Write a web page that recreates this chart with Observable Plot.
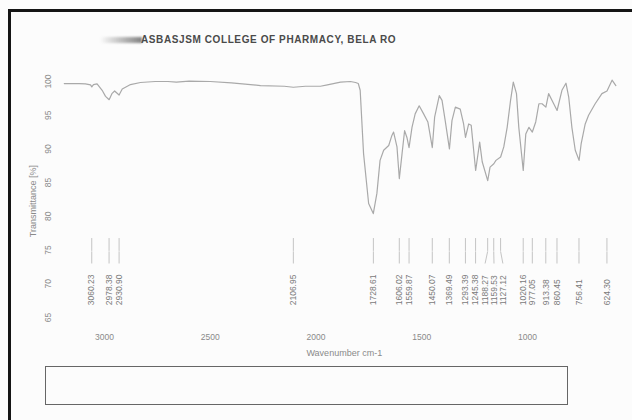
<!DOCTYPE html>
<html>
<head>
<meta charset="utf-8">
<script src="https://cdn.jsdelivr.net/npm/d3@7"></script>
<script src="https://cdn.jsdelivr.net/npm/@observablehq/plot@0.6"></script>
<style>
  body { margin: 0; background: #fff; font-family: "Liberation Sans", Arial, sans-serif; }
  #page { position: relative; width: 632px; height: 420px; overflow: hidden; background: #fcfcfc; }
  #frame { position: absolute; left: 8px; top: 9px; width: 700px; height: 500px;
           border-top: 3px solid #151515; border-left: 3px solid #151515; }
  #fade { position: absolute; left: 100px; top: 37px; width: 42px; height: 6px;
          background: linear-gradient(to right, rgba(90,90,90,0), rgba(90,90,90,0.75)); filter: blur(1px); }
  #title { position: absolute; left: 141px; top: 34px; font-size: 10px; font-weight: bold;
           color: #4a4a4a; white-space: nowrap; letter-spacing: 0.6px; }
  #chart { position: absolute; left: 0; top: 60px; }
  #remark { position: absolute; left: 45px; top: 366px; width: 521px; height: 37px; border: 1.5px solid #666; }
</style>
</head>
<body>
<div id="page">
  <div id="frame"></div>
  <div id="fade"></div>
  <div id="title">ASBASJSM COLLEGE OF PHARMACY, BELA RO</div>
  <div id="chart"></div>
  <div id="remark"></div>
</div>
<script>
// FT-IR spectrum: wavenumber (cm-1) against transmittance (%)
const wavenumber = [
  3190, 3120, 3090, 3066, 3060, 3052, 3035, 3011, 2995, 2978,
  2965, 2952, 2931, 2916, 2877, 2830, 2760, 2700, 2660, 2600,
  2500, 2400, 2262, 2150, 2107, 2050, 1979, 1946, 1884, 1837,
  1813, 1800, 1791, 1775, 1751, 1729, 1712, 1697, 1680, 1656,
  1641, 1633, 1617, 1606, 1593, 1581, 1570, 1560, 1546, 1531,
  1512, 1491, 1471, 1450, 1439, 1417, 1404, 1389, 1369, 1357,
  1341, 1318, 1302, 1293, 1278, 1266, 1245, 1226, 1214, 1188,
  1177, 1159, 1149, 1127, 1112, 1096, 1080, 1067, 1052, 1041,
  1020, 1008, 993, 977, 961, 946, 931, 913, 900, 876,
  860, 837, 818, 805, 790, 774, 756, 746, 727, 711,
  680, 648, 624, 600, 582
];
const transmittance = [
  99.7, 99.7, 99.65, 99.5, 99.2, 99.55, 99.65, 98.7, 97.8, 97.3,
  98.2, 98.6, 98.0, 98.9, 99.55, 99.85, 100.0, 100.0, 99.9, 100.05,
  100.0, 99.8, 99.4, 99.3, 99.15, 99.3, 99.3, 99.5, 99.9, 100.0,
  99.85, 99.7, 98.7, 89.3, 81.9, 80.4, 83.4, 88.3, 89.8, 90.5,
  92.0, 92.5, 90.3, 85.6, 89.3, 92.7, 91.7, 90.2, 93.2, 95.2,
  96.4, 95.2, 94.0, 90.2, 94.7, 97.9, 97.2, 94.2, 90.0, 94.2,
  96.2, 95.9, 93.7, 91.7, 93.7, 93.5, 86.8, 91.0, 88.1, 85.3,
  87.3, 87.8, 88.3, 88.8, 90.3, 93.2, 97.2, 99.9, 98.2, 93.2,
  86.8, 92.2, 93.2, 92.5, 94.0, 96.7, 96.7, 96.2, 98.2, 96.7,
  95.7, 98.7, 99.75, 97.7, 93.2, 89.8, 88.3, 90.8, 93.7, 95.0,
  96.7, 98.2, 98.6, 100.2, 99.4
];

// Peak picks
const peakPositions = [
  3060.23, 2978.38, 2930.90, 2106.95, 1728.61, 1606.02, 1559.87, 1450.07,
  1369.49, 1293.39, 1245.38, 1188.27, 1159.53, 1127.12, 1020.16, 977.05,
  913.38, 860.45, 756.41, 624.30
];
const peakLabels = peakPositions.map(v => v.toFixed(2));

const yTicks = [100, 95, 90, 85, 80, 75, 70, 65];
const xTicks = [3000, 2500, 2000, 1500, 1000];
const xLabel = "Wavenumber cm-1";
const yLabel = "Transmittance [%]";

const spectrum = wavenumber.map((v, i) => ({v, t: transmittance[i]}));

// Spread crowded peak labels apart (minimum gap in cm-1)
const minGap = 42;
const labelPos = peakPositions.slice();
for (let k = 0; k < 300; k++) {
  for (let i = 0; i < labelPos.length - 1; i++) {
    const d = labelPos[i] - labelPos[i + 1];
    if (d < minGap) {
      const s = (minGap - d) / 2;
      labelPos[i] += s;
      labelPos[i + 1] -= s;
    }
  }
}
const peaks = peakPositions.map((v, i) => ({v, lx: labelPos[i], label: peakLabels[i]}));

// Leader-line levels, in transmittance units
const leaderTop = 76.7, leaderBend = 74.8, leaderEnd = 73.0, labelBase = 66.8;

const chart = Plot.plot({
  width: 632,
  height: 300,
  marginLeft: 63.8,
  marginRight: 16.2,
  marginTop: 10.9,
  marginBottom: 29.6,
  style: {fontFamily: "'Liberation Sans', Arial, sans-serif", background: "transparent"},
  x: {domain: [3190, 580]},
  y: {domain: [63, 101.5], axis: null},
  marks: [
    Plot.line(spectrum, {x: "v", y: "t", stroke: "#a9a9a9", strokeWidth: 1.2}),
    Plot.ruleX(peaks, {x: "v", y1: () => leaderTop, y2: () => leaderBend, stroke: "#bdbdbd", strokeWidth: 0.9}),
    Plot.link(peaks, {x1: "v", y1: () => leaderBend, x2: "lx", y2: () => leaderEnd, stroke: "#bdbdbd", strokeWidth: 0.9}),
    Plot.text(peaks, {x: "lx", y: () => labelBase, text: "label", rotate: -90, textAnchor: "start",
      fontSize: 8.5, fill: "#7a7a7a"}),
    Plot.text(yTicks, {y: d => d, text: d => String(d), frameAnchor: "left", textAnchor: "middle",
      dx: -16, rotate: -90, fontSize: 8.5, fill: "#8a8a8a"}),
    Plot.axisX(xTicks, {tickSize: 0, tickPadding: 3, fontSize: 8.5, fill: "#8a8a8a", label: null,
      tickFormat: d => String(d)}),
    Plot.text([xLabel], {frameAnchor: "bottom", dy: 24.6, dx: 4, fontSize: 9, fill: "#8a8a8a"}),
    Plot.text([yLabel], {frameAnchor: "left", textAnchor: "middle", dx: -30.8, rotate: -90,
      fontSize: 9, fill: "#8a8a8a"})
  ]
});
document.getElementById("chart").appendChild(chart);
</script>
</body>
</html>
